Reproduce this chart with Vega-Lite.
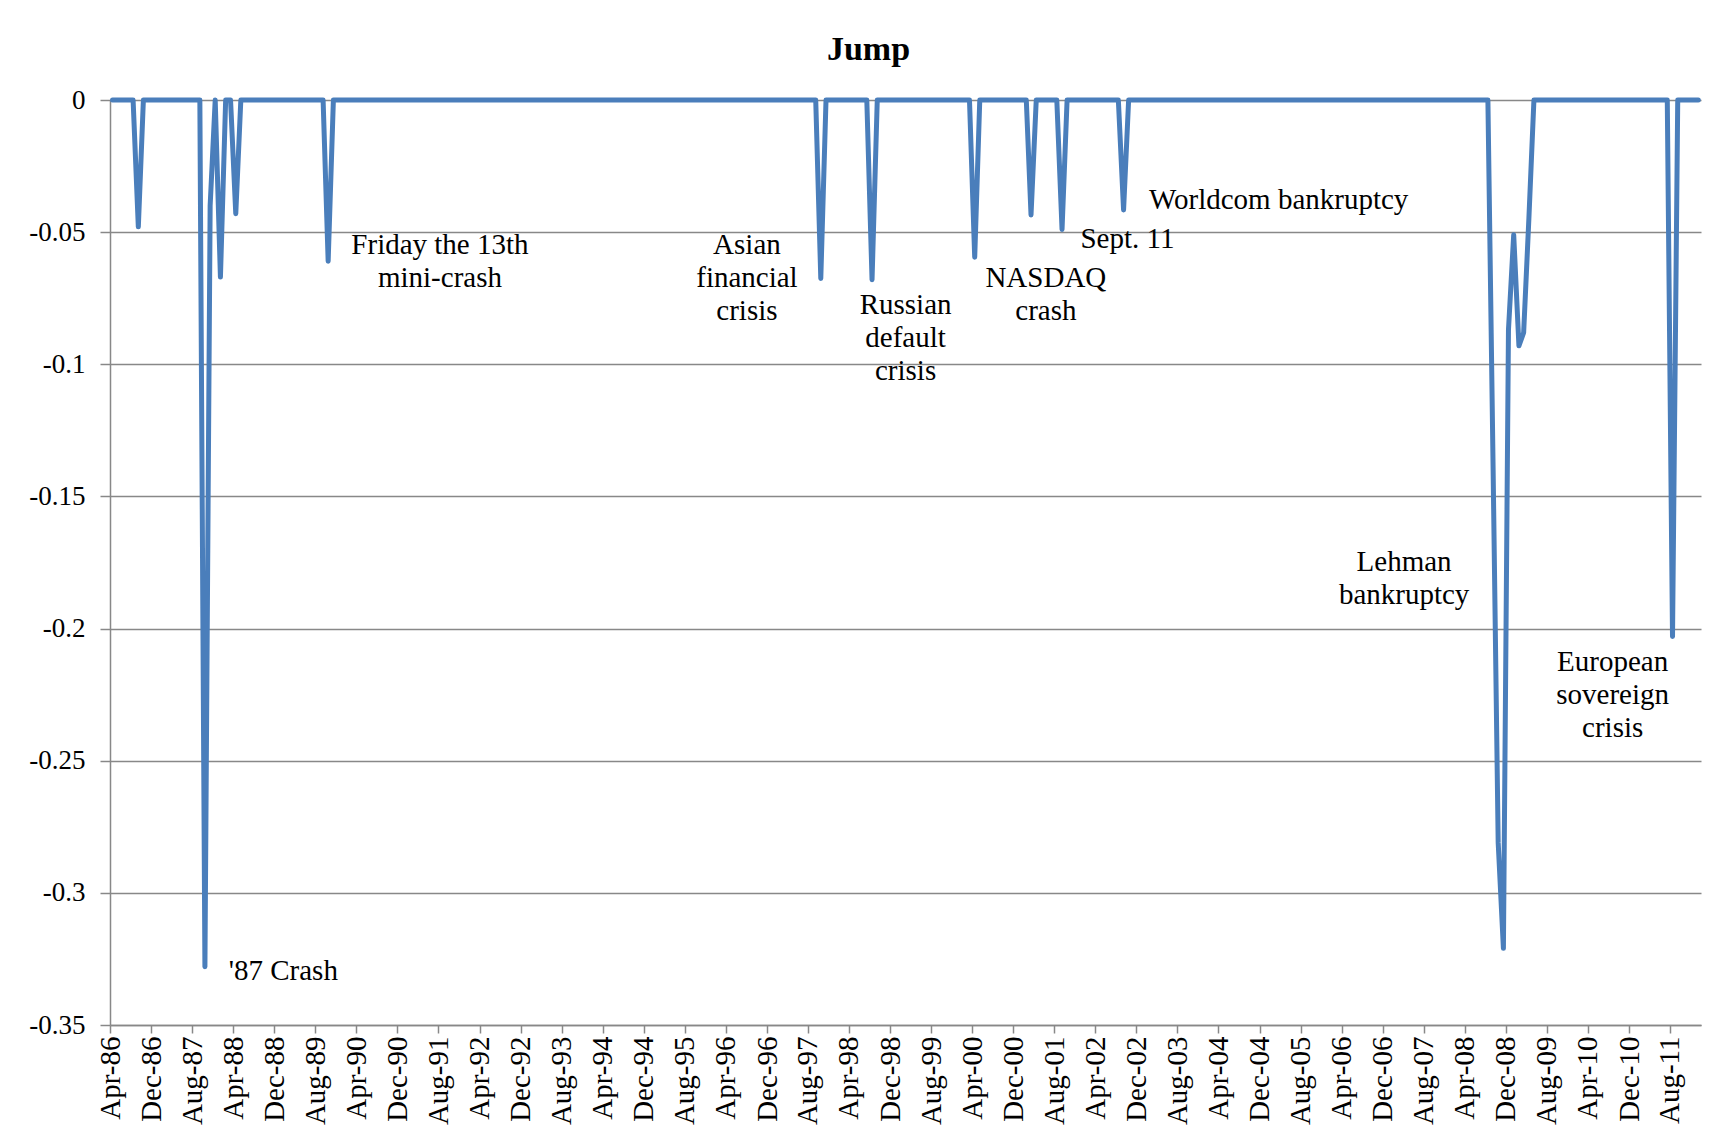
{
"$schema": "https://vega.github.io/schema/vega-lite/v6.json",
"width": 1591, "height": 925,
"autosize": {"type": "none"},
"padding": {"left": 110, "top": 100, "right": 29, "bottom": 123},
"background": "white",
"title": {"text": "Jump", "font": "Liberation Serif", "fontSize": 34, "fontWeight": "bold", "color": "black", "anchor": "middle", "baseline": "alphabetic", "offset": 42, "dx": -37, "dy": 50},
"config": {"view": {"stroke": null}, "font": "Liberation Serif"},
"layer": [
{
"data": {"values": [
{"date":"1986-04-16","jump":0},{"date":"1986-05-16","jump":0},{"date":"1986-06-16","jump":0},{"date":"1986-07-16","jump":0},{"date":"1986-08-16","jump":0},{"date":"1986-09-16","jump":-0.048},{"date":"1986-10-16","jump":0},{"date":"1986-11-16","jump":0},{"date":"1986-12-16","jump":0},
{"date":"1987-01-16","jump":0},{"date":"1987-02-16","jump":0},{"date":"1987-03-16","jump":0},{"date":"1987-04-16","jump":0},{"date":"1987-05-16","jump":0},{"date":"1987-06-16","jump":0},{"date":"1987-07-16","jump":0},{"date":"1987-08-16","jump":0},{"date":"1987-09-16","jump":0},{"date":"1987-10-16","jump":-0.328},{"date":"1987-11-16","jump":-0.04},{"date":"1987-12-16","jump":0},
{"date":"1988-01-16","jump":-0.067},{"date":"1988-02-16","jump":0},{"date":"1988-03-16","jump":0},{"date":"1988-04-16","jump":-0.043},{"date":"1988-05-16","jump":0},{"date":"1988-06-16","jump":0},{"date":"1988-07-16","jump":0},{"date":"1988-08-16","jump":0},{"date":"1988-09-16","jump":0},{"date":"1988-10-16","jump":0},{"date":"1988-11-16","jump":0},{"date":"1988-12-16","jump":0},
{"date":"1989-01-16","jump":0},{"date":"1989-02-16","jump":0},{"date":"1989-03-16","jump":0},{"date":"1989-04-16","jump":0},{"date":"1989-05-16","jump":0},{"date":"1989-06-16","jump":0},{"date":"1989-07-16","jump":0},{"date":"1989-08-16","jump":0},{"date":"1989-09-16","jump":0},{"date":"1989-10-16","jump":-0.061},{"date":"1989-11-16","jump":0},{"date":"1989-12-16","jump":0},
{"date":"1990-01-16","jump":0},{"date":"1990-02-16","jump":0},{"date":"1990-03-16","jump":0},{"date":"1990-04-16","jump":0},{"date":"1990-05-16","jump":0},{"date":"1990-06-16","jump":0},{"date":"1990-07-16","jump":0},{"date":"1990-08-16","jump":0},{"date":"1990-09-16","jump":0},{"date":"1990-10-16","jump":0},{"date":"1990-11-16","jump":0},{"date":"1990-12-16","jump":0},
{"date":"1991-01-16","jump":0},{"date":"1991-02-16","jump":0},{"date":"1991-03-16","jump":0},{"date":"1991-04-16","jump":0},{"date":"1991-05-16","jump":0},{"date":"1991-06-16","jump":0},{"date":"1991-07-16","jump":0},{"date":"1991-08-16","jump":0},{"date":"1991-09-16","jump":0},{"date":"1991-10-16","jump":0},{"date":"1991-11-16","jump":0},{"date":"1991-12-16","jump":0},
{"date":"1992-01-16","jump":0},{"date":"1992-02-16","jump":0},{"date":"1992-03-16","jump":0},{"date":"1992-04-16","jump":0},{"date":"1992-05-16","jump":0},{"date":"1992-06-16","jump":0},{"date":"1992-07-16","jump":0},{"date":"1992-08-16","jump":0},{"date":"1992-09-16","jump":0},{"date":"1992-10-16","jump":0},{"date":"1992-11-16","jump":0},{"date":"1992-12-16","jump":0},
{"date":"1993-01-16","jump":0},{"date":"1993-02-16","jump":0},{"date":"1993-03-16","jump":0},{"date":"1993-04-16","jump":0},{"date":"1993-05-16","jump":0},{"date":"1993-06-16","jump":0},{"date":"1993-07-16","jump":0},{"date":"1993-08-16","jump":0},{"date":"1993-09-16","jump":0},{"date":"1993-10-16","jump":0},{"date":"1993-11-16","jump":0},{"date":"1993-12-16","jump":0},
{"date":"1994-01-16","jump":0},{"date":"1994-02-16","jump":0},{"date":"1994-03-16","jump":0},{"date":"1994-04-16","jump":0},{"date":"1994-05-16","jump":0},{"date":"1994-06-16","jump":0},{"date":"1994-07-16","jump":0},{"date":"1994-08-16","jump":0},{"date":"1994-09-16","jump":0},{"date":"1994-10-16","jump":0},{"date":"1994-11-16","jump":0},{"date":"1994-12-16","jump":0},
{"date":"1995-01-16","jump":0},{"date":"1995-02-16","jump":0},{"date":"1995-03-16","jump":0},{"date":"1995-04-16","jump":0},{"date":"1995-05-16","jump":0},{"date":"1995-06-16","jump":0},{"date":"1995-07-16","jump":0},{"date":"1995-08-16","jump":0},{"date":"1995-09-16","jump":0},{"date":"1995-10-16","jump":0},{"date":"1995-11-16","jump":0},{"date":"1995-12-16","jump":0},
{"date":"1996-01-16","jump":0},{"date":"1996-02-16","jump":0},{"date":"1996-03-16","jump":0},{"date":"1996-04-16","jump":0},{"date":"1996-05-16","jump":0},{"date":"1996-06-16","jump":0},{"date":"1996-07-16","jump":0},{"date":"1996-08-16","jump":0},{"date":"1996-09-16","jump":0},{"date":"1996-10-16","jump":0},{"date":"1996-11-16","jump":0},{"date":"1996-12-16","jump":0},
{"date":"1997-01-16","jump":0},{"date":"1997-02-16","jump":0},{"date":"1997-03-16","jump":0},{"date":"1997-04-16","jump":0},{"date":"1997-05-16","jump":0},{"date":"1997-06-16","jump":0},{"date":"1997-07-16","jump":0},{"date":"1997-08-16","jump":0},{"date":"1997-09-16","jump":0},{"date":"1997-10-16","jump":-0.0675},{"date":"1997-11-16","jump":0},{"date":"1997-12-16","jump":0},
{"date":"1998-01-16","jump":0},{"date":"1998-02-16","jump":0},{"date":"1998-03-16","jump":0},{"date":"1998-04-16","jump":0},{"date":"1998-05-16","jump":0},{"date":"1998-06-16","jump":0},{"date":"1998-07-16","jump":0},{"date":"1998-08-16","jump":-0.068},{"date":"1998-09-16","jump":0},{"date":"1998-10-16","jump":0},{"date":"1998-11-16","jump":0},{"date":"1998-12-16","jump":0},
{"date":"1999-01-16","jump":0},{"date":"1999-02-16","jump":0},{"date":"1999-03-16","jump":0},{"date":"1999-04-16","jump":0},{"date":"1999-05-16","jump":0},{"date":"1999-06-16","jump":0},{"date":"1999-07-16","jump":0},{"date":"1999-08-16","jump":0},{"date":"1999-09-16","jump":0},{"date":"1999-10-16","jump":0},{"date":"1999-11-16","jump":0},{"date":"1999-12-16","jump":0},
{"date":"2000-01-16","jump":0},{"date":"2000-02-16","jump":0},{"date":"2000-03-16","jump":0},{"date":"2000-04-16","jump":-0.0595},{"date":"2000-05-16","jump":0},{"date":"2000-06-16","jump":0},{"date":"2000-07-16","jump":0},{"date":"2000-08-16","jump":0},{"date":"2000-09-16","jump":0},{"date":"2000-10-16","jump":0},{"date":"2000-11-16","jump":0},{"date":"2000-12-16","jump":0},
{"date":"2001-01-16","jump":0},{"date":"2001-02-16","jump":0},{"date":"2001-03-16","jump":-0.0435},{"date":"2001-04-16","jump":0},{"date":"2001-05-16","jump":0},{"date":"2001-06-16","jump":0},{"date":"2001-07-16","jump":0},{"date":"2001-08-16","jump":0},{"date":"2001-09-16","jump":-0.049},{"date":"2001-10-16","jump":0},{"date":"2001-11-16","jump":0},{"date":"2001-12-16","jump":0},
{"date":"2002-01-16","jump":0},{"date":"2002-02-16","jump":0},{"date":"2002-03-16","jump":0},{"date":"2002-04-16","jump":0},{"date":"2002-05-16","jump":0},{"date":"2002-06-16","jump":0},{"date":"2002-07-16","jump":0},{"date":"2002-08-16","jump":0},{"date":"2002-09-16","jump":-0.0416},{"date":"2002-10-16","jump":0},{"date":"2002-11-16","jump":0},{"date":"2002-12-16","jump":0},
{"date":"2003-01-16","jump":0},{"date":"2003-02-16","jump":0},{"date":"2003-03-16","jump":0},{"date":"2003-04-16","jump":0},{"date":"2003-05-16","jump":0},{"date":"2003-06-16","jump":0},{"date":"2003-07-16","jump":0},{"date":"2003-08-16","jump":0},{"date":"2003-09-16","jump":0},{"date":"2003-10-16","jump":0},{"date":"2003-11-16","jump":0},{"date":"2003-12-16","jump":0},
{"date":"2004-01-16","jump":0},{"date":"2004-02-16","jump":0},{"date":"2004-03-16","jump":0},{"date":"2004-04-16","jump":0},{"date":"2004-05-16","jump":0},{"date":"2004-06-16","jump":0},{"date":"2004-07-16","jump":0},{"date":"2004-08-16","jump":0},{"date":"2004-09-16","jump":0},{"date":"2004-10-16","jump":0},{"date":"2004-11-16","jump":0},{"date":"2004-12-16","jump":0},
{"date":"2005-01-16","jump":0},{"date":"2005-02-16","jump":0},{"date":"2005-03-16","jump":0},{"date":"2005-04-16","jump":0},{"date":"2005-05-16","jump":0},{"date":"2005-06-16","jump":0},{"date":"2005-07-16","jump":0},{"date":"2005-08-16","jump":0},{"date":"2005-09-16","jump":0},{"date":"2005-10-16","jump":0},{"date":"2005-11-16","jump":0},{"date":"2005-12-16","jump":0},
{"date":"2006-01-16","jump":0},{"date":"2006-02-16","jump":0},{"date":"2006-03-16","jump":0},{"date":"2006-04-16","jump":0},{"date":"2006-05-16","jump":0},{"date":"2006-06-16","jump":0},{"date":"2006-07-16","jump":0},{"date":"2006-08-16","jump":0},{"date":"2006-09-16","jump":0},{"date":"2006-10-16","jump":0},{"date":"2006-11-16","jump":0},{"date":"2006-12-16","jump":0},
{"date":"2007-01-16","jump":0},{"date":"2007-02-16","jump":0},{"date":"2007-03-16","jump":0},{"date":"2007-04-16","jump":0},{"date":"2007-05-16","jump":0},{"date":"2007-06-16","jump":0},{"date":"2007-07-16","jump":0},{"date":"2007-08-16","jump":0},{"date":"2007-09-16","jump":0},{"date":"2007-10-16","jump":0},{"date":"2007-11-16","jump":0},{"date":"2007-12-16","jump":0},
{"date":"2008-01-16","jump":0},{"date":"2008-02-16","jump":0},{"date":"2008-03-16","jump":0},{"date":"2008-04-16","jump":0},{"date":"2008-05-16","jump":0},{"date":"2008-06-16","jump":0},{"date":"2008-07-16","jump":0},{"date":"2008-08-16","jump":0},{"date":"2008-09-16","jump":-0.14},{"date":"2008-10-16","jump":-0.281},{"date":"2008-11-16","jump":-0.321},{"date":"2008-12-16","jump":-0.087},
{"date":"2009-01-16","jump":-0.051},{"date":"2009-02-16","jump":-0.093},{"date":"2009-03-16","jump":-0.088},{"date":"2009-04-16","jump":-0.045},{"date":"2009-05-16","jump":0},{"date":"2009-06-16","jump":0},{"date":"2009-07-16","jump":0},{"date":"2009-08-16","jump":0},{"date":"2009-09-16","jump":0},{"date":"2009-10-16","jump":0},{"date":"2009-11-16","jump":0},{"date":"2009-12-16","jump":0},
{"date":"2010-01-16","jump":0},{"date":"2010-02-16","jump":0},{"date":"2010-03-16","jump":0},{"date":"2010-04-16","jump":0},{"date":"2010-05-16","jump":0},{"date":"2010-06-16","jump":0},{"date":"2010-07-16","jump":0},{"date":"2010-08-16","jump":0},{"date":"2010-09-16","jump":0},{"date":"2010-10-16","jump":0},{"date":"2010-11-16","jump":0},{"date":"2010-12-16","jump":0},
{"date":"2011-01-16","jump":0},{"date":"2011-02-16","jump":0},{"date":"2011-03-16","jump":0},{"date":"2011-04-16","jump":0},{"date":"2011-05-16","jump":0},{"date":"2011-06-16","jump":0},{"date":"2011-07-16","jump":0},{"date":"2011-08-16","jump":-0.203},{"date":"2011-09-16","jump":0},{"date":"2011-10-16","jump":0},{"date":"2011-11-16","jump":0},{"date":"2011-12-16","jump":0},
{"date":"2012-01-16","jump":0}
]},
"mark": {"type": "line", "color": "#4a7ebb", "strokeWidth": 5, "strokeJoin": "round", "strokeCap": "round"},
"encoding": {
"x": {"field": "date", "type": "temporal",
 "scale": {"domain": [{"year":1986,"month":4,"date":1},{"year":2012,"month":2,"date":1}], "nice": false},
 "axis": {"title": null, "grid": false,
  "values": [{"year":1986,"month":4,"date":1},{"year":1986,"month":12,"date":1},{"year":1987,"month":8,"date":1},{"year":1988,"month":4,"date":1},{"year":1988,"month":12,"date":1},{"year":1989,"month":8,"date":1},{"year":1990,"month":4,"date":1},{"year":1990,"month":12,"date":1},{"year":1991,"month":8,"date":1},{"year":1992,"month":4,"date":1},{"year":1992,"month":12,"date":1},{"year":1993,"month":8,"date":1},{"year":1994,"month":4,"date":1},{"year":1994,"month":12,"date":1},{"year":1995,"month":8,"date":1},{"year":1996,"month":4,"date":1},{"year":1996,"month":12,"date":1},{"year":1997,"month":8,"date":1},{"year":1998,"month":4,"date":1},{"year":1998,"month":12,"date":1},{"year":1999,"month":8,"date":1},{"year":2000,"month":4,"date":1},{"year":2000,"month":12,"date":1},{"year":2001,"month":8,"date":1},{"year":2002,"month":4,"date":1},{"year":2002,"month":12,"date":1},{"year":2003,"month":8,"date":1},{"year":2004,"month":4,"date":1},{"year":2004,"month":12,"date":1},{"year":2005,"month":8,"date":1},{"year":2006,"month":4,"date":1},{"year":2006,"month":12,"date":1},{"year":2007,"month":8,"date":1},{"year":2008,"month":4,"date":1},{"year":2008,"month":12,"date":1},{"year":2009,"month":8,"date":1},{"year":2010,"month":4,"date":1},{"year":2010,"month":12,"date":1},{"year":2011,"month":8,"date":1}],
  "labelExpr": "timeFormat(datum.value, '%b-%y')",
  "labelAngle": -90, "labelFont": "Liberation Serif", "labelFontSize": 29, "labelColor": "black",
  "labelPadding": 3, "labelOverlap": false, "labelFlush": false, "labelBound": false,
  "tickColor": "#888888", "tickSize": 8, "tickWidth": 1.5,
  "domainColor": "#888888", "domainWidth": 1.5}},
"y": {"field": "jump", "type": "quantitative",
 "scale": {"domain": [-0.35, 0], "nice": false, "zero": false},
 "axis": {"title": null, "grid": true, "gridColor": "#888888", "gridWidth": 1.5,
  "values": [0, -0.05, -0.1, -0.15, -0.2, -0.25, -0.3, -0.35],
  "labelExpr": "datum.value == 0 ? '0' : '-' + format(-datum.value, '~g')",
  "labelFont": "Liberation Serif", "labelFontSize": 27, "labelColor": "black",
  "labelPadding": 15, "labelOverlap": false, "labelFlush": false,
  "tickColor": "#888888", "tickSize": 10, "tickWidth": 1.5,
  "domainColor": "#888888", "domainWidth": 1.5}}
}
},
{
"data": {"values": [
{"date":"1991-08-10","jump":-0.0549,"label":"Friday the 13th\nmini-crash"},
{"date":"1996-08-04","jump":-0.0549,"label":"Asian\nfinancial\ncrisis"},
{"date":"1999-03-03","jump":-0.0774,"label":"Russian\ndefault\ncrisis"},
{"date":"2001-06-12","jump":-0.0673,"label":"NASDAQ\ncrash"},
{"date":"2002-10-09","jump":-0.0527,"label":"Sept. 11"},
{"date":"2005-03-24","jump":-0.0377,"label":"Worldcom bankruptcy"},
{"date":"2007-04-07","jump":-0.1747,"label":"Lehman\nbankruptcy"},
{"date":"2010-08-26","jump":-0.2126,"label":"European\nsovereign\ncrisis"},
{"date":"1989-01-23","jump":-0.3295,"label":"'87 Crash"}
]},
"mark": {"type": "text", "font": "Liberation Serif", "fontSize": 29, "lineBreak": "\n", "lineHeight": 33, "align": "center", "baseline": "middle", "color": "black"},
"encoding": {
"x": {"field": "date", "type": "temporal"},
"y": {"field": "jump", "type": "quantitative"},
"text": {"field": "label", "type": "nominal"}
}
}
]
}
